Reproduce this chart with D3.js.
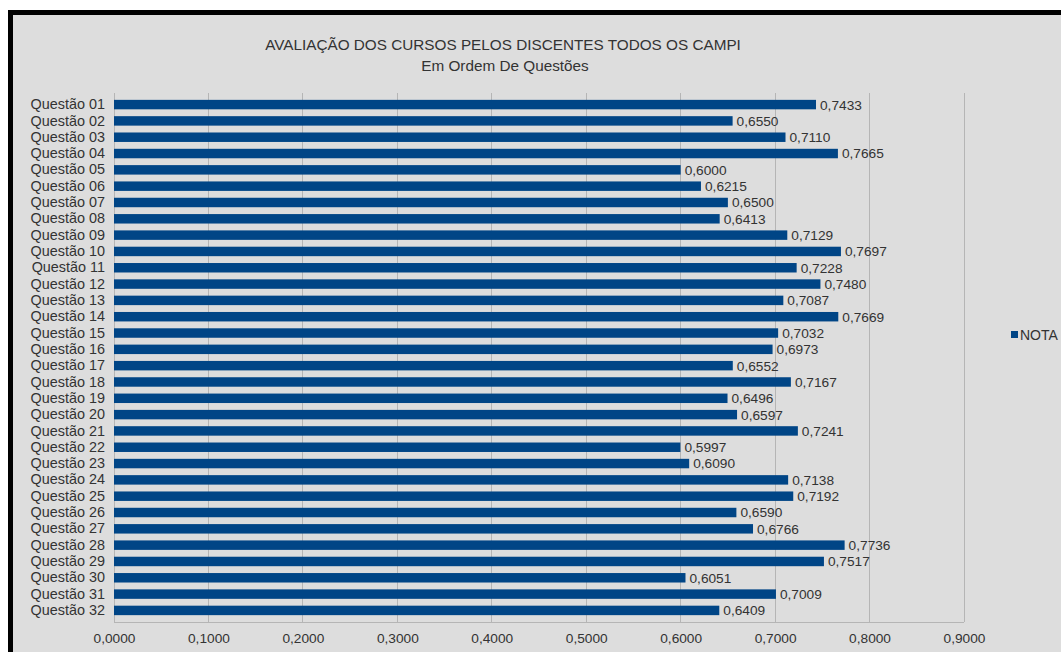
<!DOCTYPE html>
<html>
<head>
<meta charset="utf-8">
<script src="https://cdn.jsdelivr.net/npm/d3@7"></script>
<style>
  html, body { margin: 0; padding: 0; background: #ffffff; }
  svg { display: block; }
  text { font-family: "Liberation Sans", Arial, sans-serif; fill: #333333; }
</style>
</head>
<body>
<svg id="chart" width="1061" height="652"></svg>
<script>
// Course evaluation scores per question
const questions = [
  "Questão 01","Questão 02","Questão 03","Questão 04","Questão 05","Questão 06","Questão 07","Questão 08",
  "Questão 09","Questão 10","Questão 11","Questão 12","Questão 13","Questão 14","Questão 15","Questão 16",
  "Questão 17","Questão 18","Questão 19","Questão 20","Questão 21","Questão 22","Questão 23","Questão 24",
  "Questão 25","Questão 26","Questão 27","Questão 28","Questão 29","Questão 30","Questão 31","Questão 32"
];
const nota = [
  0.7433, 0.6550, 0.7110, 0.7665, 0.6000, 0.6215, 0.6500, 0.6413,
  0.7129, 0.7697, 0.7228, 0.7480, 0.7087, 0.7669, 0.7032, 0.6973,
  0.6552, 0.7167, 0.6496, 0.6597, 0.7241, 0.5997, 0.6090, 0.7138,
  0.7192, 0.6590, 0.6766, 0.7736, 0.7517, 0.6051, 0.7009, 0.6409
];
const xTicks = [0, 0.1, 0.2, 0.3, 0.4, 0.5, 0.6, 0.7, 0.8, 0.9];
const seriesName = "NOTA";
const titleText = "AVALIAÇÃO DOS CURSOS PELOS DISCENTES TODOS OS CAMPI";
const subtitleText = "Em Ordem De Questões";

const barColor = "#004586";
const gridColor = "#b5b5b5";
const fmt = v => d3.format(".4f")(v).replace(".", ",");

const svg = d3.select("#chart");

// page frame
svg.append("rect").attr("x", 8).attr("y", 10).attr("width", 1100).attr("height", 700)
  .attr("fill", "#dddddd");
svg.append("rect").attr("x", 8).attr("y", 10).attr("width", 1100).attr("height", 5).attr("fill", "#000");
svg.append("rect").attr("x", 8).attr("y", 10).attr("width", 5).attr("height", 700).attr("fill", "#000");

const plot = { left: 114, right: 964, top: 93, bottom: 622 };

const x = d3.scaleLinear().domain([0, 0.9]).range([plot.left, plot.right]);
const y = d3.scaleBand().domain(questions).range([plot.top, plot.bottom]).padding(0.42);

// gridlines
svg.append("g").selectAll("line").data(xTicks).join("line")
  .attr("x1", d => x(d)).attr("x2", d => x(d))
  .attr("y1", plot.top).attr("y2", plot.bottom)
  .attr("stroke", gridColor).attr("stroke-width", 1)
  .attr("shape-rendering", "crispEdges");
svg.append("line")
  .attr("x1", plot.left).attr("x2", plot.right)
  .attr("y1", plot.bottom).attr("y2", plot.bottom)
  .attr("stroke", gridColor).attr("shape-rendering", "crispEdges");

// bars
svg.append("g").selectAll("rect").data(nota).join("rect")
  .attr("x", x(0))
  .attr("y", (d, i) => y(questions[i]))
  .attr("width", d => x(d) - x(0))
  .attr("height", y.bandwidth())
  .attr("fill", barColor);

// value labels
svg.append("g").selectAll("text").data(nota).join("text")
  .attr("x", d => x(d) + 4)
  .attr("y", (d, i) => y(questions[i]) + y.bandwidth() / 2)
  .attr("dy", "0.36em")
  .attr("font-size", 13.7)
  .text(d => fmt(d));

// category axis
const yAxis = d3.axisLeft(y).tickSize(0).tickPadding(9);
const gy = svg.append("g").attr("transform", `translate(${plot.left},0)`).call(yAxis);
gy.select(".domain").remove();
gy.selectAll("text").attr("font-size", 14.4).attr("fill", "#333").style("font-family", "'Liberation Sans', Arial, sans-serif");

// value axis
const xAxis = d3.axisBottom(x).tickValues(xTicks).tickSize(0).tickPadding(11).tickFormat(fmt);
const gx = svg.append("g").attr("transform", `translate(0,${plot.bottom})`).call(xAxis);
gx.select(".domain").remove();
gx.selectAll("text").attr("font-size", 13.7).attr("fill", "#333").style("font-family", "'Liberation Sans', Arial, sans-serif");

// titles
svg.append("text").attr("x", 503).attr("y", 50).attr("text-anchor", "middle")
  .attr("font-size", 15.3).attr("fill", "#222").text(titleText);
svg.append("text").attr("x", 505).attr("y", 71).attr("text-anchor", "middle")
  .attr("font-size", 15.3).attr("fill", "#222").text(subtitleText);

// legend
const lg = svg.append("g").attr("transform", "translate(1011,331)");
lg.append("rect").attr("width", 7).attr("height", 7).attr("fill", barColor);
lg.append("text").attr("x", 9).attr("y", 3.5).attr("dy", "0.36em")
  .attr("font-size", 14).text(seriesName);
</script>
</body>
</html>
